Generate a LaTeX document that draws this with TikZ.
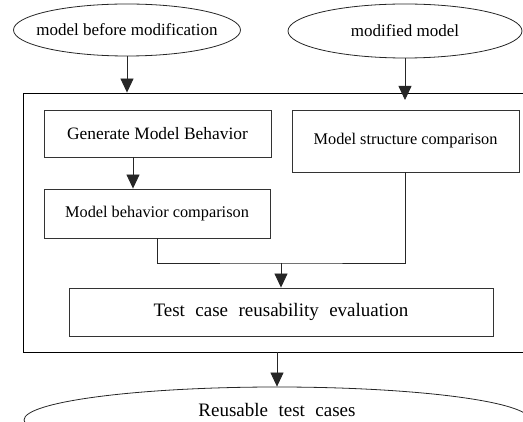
\documentclass[tikz,border=0pt]{standalone}
\usepackage{fontspec}
\setmainfont{Liberation Serif}
\newfontfamily\widefont[WordSpace=2.2]{Liberation Serif}
\usetikzlibrary{shapes.geometric,arrows.meta}

\begin{document}
\begin{tikzpicture}[x=1pt,y=1pt,yscale=-1,xscale=1,
		model/.style={draw=black!85,line width=0.8,ellipse,inner sep=0pt},
		modeltext/.style={font=\fontsize{17}{20}\selectfont},
		stepbox/.style={draw=black!80,line width=0.9,rectangle,inner sep=0pt,font=\fontsize{16.3}{20}\selectfont},
		flow/.style={-{Triangle[width=13,length=14]},line width=0.8,draw=black!85}]
		\useasboundingbox (0,0) rectangle (523,422);
		% inputs
		\node [model,minimum width=227,minimum height=52,label={[modeltext]center:model before modification}] (before) at (127,30) {};
		\node [model,minimum width=234,minimum height=54,label={[modeltext]center:modified model}] (modified) at (405,31) {};
		% frame round the comparison steps
		\node [draw,line width=0.9,minimum width=505,minimum height=259] (core) at (275.5,222.5) {};
		\node [stepbox,minimum width=227,minimum height=47,font=\fontsize{17.4}{20}\selectfont] (gen) at (157.5,133.5) {Generate Model Behavior};
		\node [stepbox,minimum width=227,minimum height=62] (struct) at (405.5,141) {Model structure comparison};
		\node [stepbox,minimum width=226,minimum height=49] (behav) at (157,213.5) {Model behavior comparison};
		\node [stepbox,minimum width=424,minimum height=48,font=\widefont\fontsize{19}{22}\selectfont] (eval) at (281,312) {Test case reusability evaluation};
		% output
		\node [model,minimum width=506,minimum height=66,label={[yshift=10,font=\widefont\fontsize{19}{22}\selectfont]center:Reusable test cases}] (reuse) at (277,420) {};
		\coordinate (structin) at (405,100);
		\coordinate (genout) at (133,157);
		\coordinate (merge) at (281,263);
		\draw [flow] (before.south) -- (before.south |- core.north);
		\draw [flow] (modified.south) -- (structin);
		\draw [flow] (genout) -- (genout |- behav.north);
		\draw [line width=0.8,draw=black!85] (behav.south) |- (merge) -| (struct.south);
		\draw [flow] (merge) -- (merge |- eval.north);
		\draw [flow] (reuse.north |- core.south) -- (reuse.north);
\end{tikzpicture}
\end{document}
